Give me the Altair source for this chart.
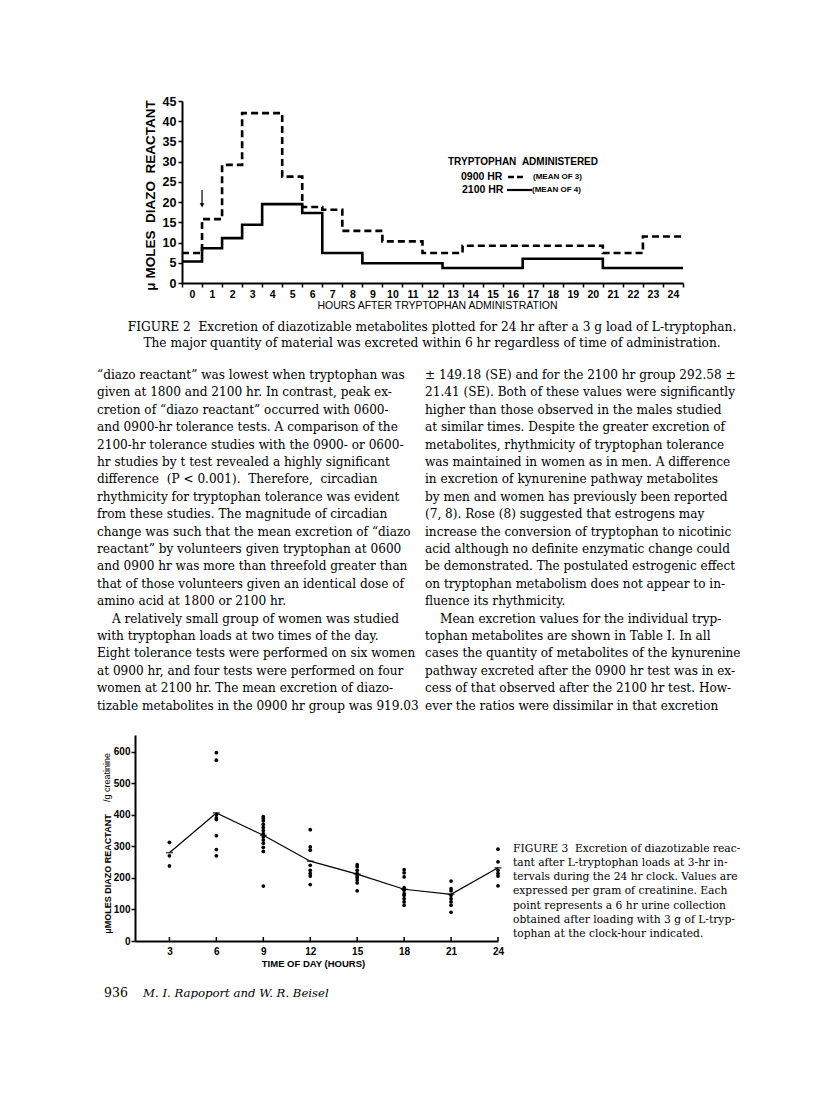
import altair as alt
import pandas as pd

# ---------------- Figure 2 data (hourly excretion, umoles diazo reactant) ----------------
hours = list(range(25))
excretion_0900 = [7.4, 15.8, 29.2, 42.0, 42.0, 26.3, 18.8, 18.1, 12.9, 12.9, 10.3, 10.3, 7.4,
                  7.4, 9.2, 9.2, 9.2, 9.2, 9.2, 9.2, 9.2, 7.4, 7.4, 11.5, 11.5]
excretion_2100 = [5.3, 8.6, 11.1, 14.4, 19.5, 19.5, 17.3, 7.4, 7.4, 4.9, 4.9, 4.9, 4.9,
                  3.7, 3.7, 3.7, 3.7, 6.0, 6.0, 6.0, 6.0, 3.7, 3.7, 3.7, 3.7]
y_ticks_fig2 = [0, 5, 10, 15, 20, 25, 30, 35, 40, 45]
arrow_hour = [0.5]
arrow_top = [23.0]
arrow_tip = [19.2]

# ---------------- Figure 3 data (umoles / g creatinine) ----------------
clock_hours = [3, 6, 9, 12, 15, 18, 21, 24]
mean_values = [280, 406, 335, 253, 212, 164, 148, 232]
pts_03 = [313, 270, 238]
pts_06 = [597, 573, 400, 390, 385, 334, 290, 270]
pts_09 = [394, 388, 381, 370, 360, 350, 340, 330, 320, 310, 297, 284, 174]
pts_12 = [353, 298, 288, 240, 224, 214, 206, 179]
pts_15 = [242, 235, 224, 214, 206, 201, 193, 184, 159]
pts_18 = [226, 216, 203, 169, 161, 150, 145, 134, 124, 113]
pts_21 = [190, 166, 159, 145, 134, 124, 113, 91]
pts_24 = [291, 251, 224, 214, 206, 175]
y_ticks_fig3 = [0, 100, 200, 300, 400, 500, 600]

# ---------------- Page text ----------------
NB = "\u00a0"
caption2 = [
    "FIGURE 2" + NB + NB + "Excretion of diazotizable metabolites plotted for 24 hr after a 3 g load of L-tryptophan.",
    "The major quantity of material was excreted within 6 hr regardless of time of administration.",
]
left_col = [
    "\u201cdiazo reactant\u201d was lowest when tryptophan was",
    "given at 1800 and 2100 hr. In contrast, peak ex-",
    "cretion of \u201cdiazo reactant\u201d occurred with 0600-",
    "and 0900-hr tolerance tests. A comparison of the",
    "2100-hr tolerance studies with the 0900- or 0600-",
    "hr studies by t test revealed a highly significant",
    "difference" + NB + NB + "(P < 0.001)." + NB + NB + "Therefore," + NB + NB + "circadian",
    "rhythmicity for tryptophan tolerance was evident",
    "from these studies. The magnitude of circadian",
    "change was such that the mean excretion of \u201cdiazo",
    "reactant\u201d by volunteers given tryptophan at 0600",
    "and 0900 hr was more than threefold greater than",
    "that of those volunteers given an identical dose of",
    "amino acid at 1800 or 2100 hr.",
    "A relatively small group of women was studied",
    "with tryptophan loads at two times of the day.",
    "Eight tolerance tests were performed on six women",
    "at 0900 hr, and four tests were performed on four",
    "women at 2100 hr. The mean excretion of diazo-",
    "tizable metabolites in the 0900 hr group was 919.03",
]
right_col = [
    "\u00b1 149.18 (SE) and for the 2100 hr group 292.58 \u00b1",
    "21.41 (SE). Both of these values were significantly",
    "higher than those observed in the males studied",
    "at similar times. Despite the greater excretion of",
    "metabolites, rhythmicity of tryptophan tolerance",
    "was maintained in women as in men. A difference",
    "in excretion of kynurenine pathway metabolites",
    "by men and women has previously been reported",
    "(7, 8). Rose (8) suggested that estrogens may",
    "increase the conversion of tryptophan to nicotinic",
    "acid although no definite enzymatic change could",
    "be demonstrated. The postulated estrogenic effect",
    "on tryptophan metabolism does not appear to in-",
    "fluence its rhythmicity.",
    "Mean excretion values for the individual tryp-",
    "tophan metabolites are shown in Table I. In all",
    "cases the quantity of metabolites of the kynurenine",
    "pathway excreted after the 0900 hr test was in ex-",
    "cess of that observed after the 2100 hr test. How-",
    "ever the ratios were dissimilar in that excretion",
]
paragraph_start = 14  # index of the indented first line of the second paragraph
caption3 = [
    "FIGURE 3" + NB + NB + "Excretion of diazotizable reac-",
    "tant after L-tryptophan loads at 3-hr in-",
    "tervals during the 24 hr clock. Values are",
    "expressed per gram of creatinine. Each",
    "point represents a 6 hr urine collection",
    "obtained after loading with 3 g of L-tryp-",
    "tophan at the clock-hour indicated.",
]
page_number = "936"
authors = "M. I. Rapoport and W. R. Beisel"

SANS = "Liberation Sans"
SERIF = "DejaVu Serif"
ONE = alt.Data(values=[{}])


def note(text, x, y, **kw):
    return alt.Chart(ONE).mark_text(**kw).encode(
        x=alt.value(x), y=alt.value(y), text=alt.value(text))


def column(lines, x, y0, lh, indent, **kw):
    k = paragraph_start
    return [
        note(lines[:k], x, y0, lineHeight=lh, **kw),
        note(lines[k], x + indent, y0 + k * lh, **kw),
        note(lines[k + 1:], x, y0 + (k + 1) * lh, lineHeight=lh, **kw),
    ]


# ---------------- Panel A: Figure 2 ----------------
def step_rows(vals, name):
    rows = [{"hour": h - 0.5, "value": v, "series": name} for h, v in zip(hours, vals)]
    rows.append({"hour": hours[-1] + 0.5, "value": vals[-1], "series": name})
    return rows


step_df = pd.DataFrame(step_rows(excretion_0900, "0900 HR") + step_rows(excretion_2100, "2100 HR"))
arrow_df = pd.DataFrame({"hour": arrow_hour, "value": arrow_top, "tip": arrow_tip})
arrow_head_df = pd.DataFrame({"hour": arrow_hour, "value": arrow_tip})

WA, HA = 501, 182

xA = alt.X("hour:Q", scale=alt.Scale(domain=[-0.5, 24.5], nice=False, zero=False),
           axis=alt.Axis(values=[h - 0.5 for h in hours] + [hours[-1] + 0.5],
                         labelExpr="datum.value > 24 ? '' : format(datum.value + 0.5, 'd')",
                         labelOffset=10, labelOverlap=False, labelFlush=False, labelBound=False,
                         tickSize=4, tickWidth=1.5, tickColor="black",
                         domainColor="black", domainWidth=2, grid=False,
                         labelFont=SANS, labelFontSize=10.5, labelFontWeight="bold",
                         labelColor="black", labelPadding=2.5,
                         title="HOURS AFTER TRYPTOPHAN ADMINISTRATION", titleFont=SANS,
                         titleFontSize=10.5, titleFontWeight="normal", titleColor="black",
                         titleX=255, titleY=22, titleAlign="center", titleBaseline="middle"))
yA = alt.Y("value:Q", scale=alt.Scale(domain=[0, 45], nice=False),
           axis=alt.Axis(values=y_ticks_fig2, tickSize=4, tickWidth=1.5, tickColor="black",
                         domainColor="black", domainWidth=2, grid=False,
                         labelFont=SANS, labelFontSize=12.5, labelFontWeight="bold",
                         labelColor="black", labelPadding=2, labelOverlap=False,
                         title="\u03bc MOLES" + NB + NB + "DIAZO" + NB + NB + "REACTANT",
                         titleFont=SANS, titleFontSize=13.5, titleFontWeight="bold",
                         titleColor="black", titleX=-32, titleY=94, titleAngle=270,
                         titleAlign="center", titleBaseline="middle"))

line0900 = alt.Chart(step_df).transform_filter("datum.series == '0900 HR'").mark_line(
    interpolate="step-after", color="black", strokeWidth=2.6, strokeDash=[7, 4]).encode(x=xA, y=yA)
line2100 = alt.Chart(step_df).transform_filter("datum.series == '2100 HR'").mark_line(
    interpolate="step-after", color="black", strokeWidth=2.6).encode(x=xA, y=yA)
arrow_shaft = alt.Chart(arrow_df).mark_rule(color="black", strokeWidth=1.2).encode(
    x=xA, y=yA, y2="tip:Q")
arrow_head = alt.Chart(arrow_head_df).mark_point(shape="triangle-down", filled=True,
                                                 color="black", size=22, opacity=1).encode(
    x=xA, y=yA)

leg_font = dict(font=SANS, fontWeight="bold", color="black", align="left", baseline="middle")
legend_layers = [
    note("TRYPTOPHAN" + NB + NB + "ADMINISTERED", 266, 61, fontSize=10, **leg_font),
    note("0900 HR", 279, 76, fontSize=10.5, **leg_font),
    note("(MEAN OF 3)", 351, 76, fontSize=8, **leg_font),
    note("2100 HR", 280, 89, fontSize=10.5, **leg_font),
    note("(MEAN OF 4)", 350, 89, fontSize=8, **leg_font),
    alt.Chart(ONE).mark_rule(color="black", strokeWidth=2.6, strokeDash=[6, 3]).encode(
        x=alt.value(326), x2=alt.value(341), y=alt.value(76)),
    alt.Chart(ONE).mark_rule(color="black", strokeWidth=2.2).encode(
        x=alt.value(325), x2=alt.value(350), y=alt.value(89)),
]

cap2 = note(caption2, 250, 230, font=SERIF, fontSize=12.2, color="black", align="center",
            baseline="alphabetic", lineHeight=16)
body_style = dict(font=SERIF, fontSize=12.1, color="black", align="left", baseline="alphabetic")
body_left = column(left_col, -85, 278, 17.4, 15, **body_style)
body_right = column(right_col, 243, 278, 17.4, 15, **body_style)
anchorA = alt.Chart(ONE).mark_rule(opacity=0).encode(
    x=alt.value(-174), y=alt.value(-93), y2=alt.value(624))

panelA = alt.layer(line0900, line2100, arrow_shaft, arrow_head, *legend_layers,
                   cap2, *body_left, *body_right, anchorA).properties(width=WA, height=HA)

# ---------------- Panel B: Figure 3 ----------------
# Both panels share the same left origin in the page layout; Figure 3's plot starts
# 47 px further left, so its x range starts at -47 and its y axis is offset by 47.
SHIFT = 47
pts_lists = [pts_03, pts_06, pts_09, pts_12, pts_15, pts_18, pts_21, pts_24]
dots_df = pd.DataFrame([{"hour": h, "value": v} for h, vals in zip(clock_hours, pts_lists) for v in vals])
mean_df = pd.DataFrame({"hour": clock_hours, "value": mean_values})
ticks_df = pd.DataFrame({"hour": clock_hours})

WB, HB = 363, 206
xB = alt.X("hour:Q", scale=alt.Scale(domain=[0.8, 24], nice=False, zero=False,
                                     range=[-SHIFT, WB - SHIFT]),
           axis=alt.Axis(values=clock_hours, ticks=False, labelPadding=5,
                         labelFont=SANS, labelFontSize=10, labelFontWeight="bold",
                         labelColor="black", labelOverlap=False, labelFlush=False,
                         labelBound=False,
                         domainColor="black", domainWidth=2, grid=False,
                         title="TIME OF DAY (HOURS)", titleFont=SANS, titleFontSize=9.5,
                         titleFontWeight="bold", titleColor="black", titleX=178 - SHIFT, titleY=22,
                         titleAlign="center", titleBaseline="middle"))
yB = alt.Y("value:Q", scale=alt.Scale(domain=[0, 653], nice=False),
           axis=alt.Axis(values=y_ticks_fig3, tickSize=4, tickWidth=1.5, tickColor="black",
                         offset=SHIFT,
                         domainColor="black", domainWidth=2, grid=False,
                         labelFont=SANS, labelFontSize=10, labelFontWeight="bold",
                         labelColor="black", labelPadding=1, labelOverlap=False,
                         title="\u03bcMOLES DIAZO REACTANT", titleFont=SANS, titleFontSize=9,
                         titleFontWeight="bold", titleColor="black", titleX=-28, titleY=138.5,
                         titleAngle=270, titleAlign="center", titleBaseline="middle"))

mean_line = alt.Chart(mean_df).mark_line(color="black", strokeWidth=1.2).encode(x=xB, y=yB)
mean_marks = alt.Chart(mean_df).mark_tick(color="black", orient="horizontal", size=7,
                                          thickness=1.5).encode(x=xB, y=yB)
dots = alt.Chart(dots_df).mark_circle(color="black", size=14, opacity=1).encode(x=xB, y=yB)
inner_ticks = alt.Chart(ticks_df).mark_rule(color="black", strokeWidth=1.5).encode(
    x=xB, y=alt.value(HB - 4), y2=alt.value(HB))
ytitle_rest = note("/g creatinine", -28 - SHIFT, 42.5, font=SANS, fontSize=9, color="black",
                   align="center", baseline="middle", angle=270)
cap3 = note(caption3, 378 - SHIFT, 116.5, font=SERIF, fontSize=10.7, color="black",
            align="left", baseline="alphabetic", lineHeight=14.3)
foot_num = note(page_number, -31 - SHIFT, 262, font=SERIF, fontSize=12.5, color="black",
                align="left", baseline="alphabetic")
foot_auth = note(authors, 8 - SHIFT, 262, font=SERIF, fontSize=11.7, fontStyle="italic",
                 color="black", align="left", baseline="alphabetic")
anchorB = alt.Chart(ONE).mark_rule(opacity=0).encode(
    x=alt.value(-100), y=alt.value(-10), y2=alt.value(0))

panelB = alt.layer(mean_line, dots, mean_marks, inner_ticks, ytitle_rest, cap3,
                   foot_num, foot_auth, anchorB).properties(width=WB - SHIFT, height=HB)

chart = alt.vconcat(panelA, panelB, spacing=0) \
    .properties(padding=0, background="white") \
    .configure_view(strokeWidth=0)

chart.save("out.html", embed_options={"renderer": "svg", "actions": False})
